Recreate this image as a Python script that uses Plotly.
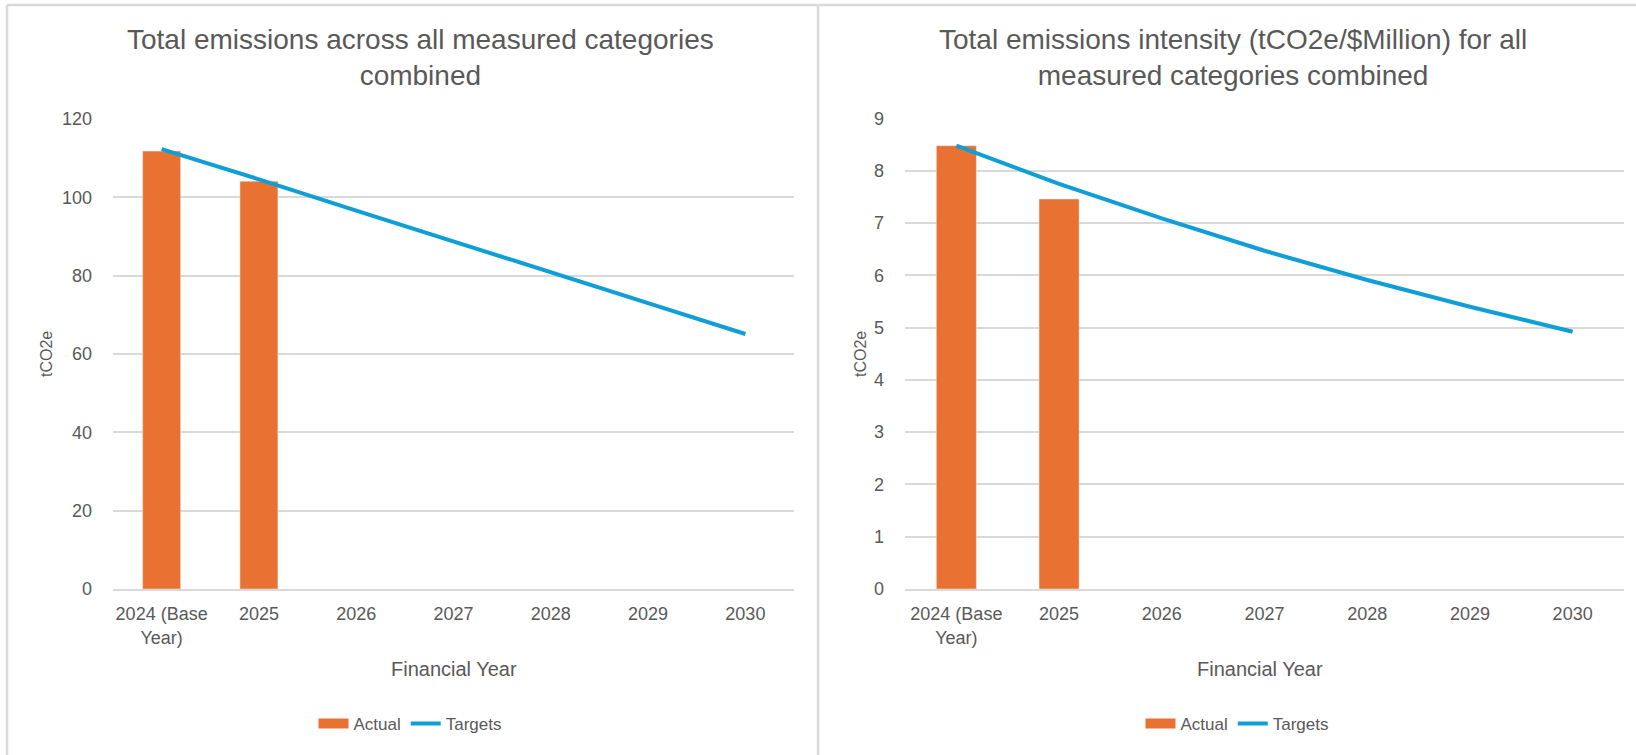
import plotly.graph_objects as go

# ---- data ----
years = ["2024 (Base<br>Year)", "2025", "2026", "2027", "2028", "2029", "2030"]
emissions_actual = [111.8, 104.1, None, None, None, None, None]
emissions_targets = [112.3, 104.6, 96.6, 88.8, 80.8, 73.0, 65.1]
intensity_actual = [8.48, 7.46, None, None, None, None, None]
intensity_targets = [8.48, 7.75, 7.09, 6.47, 5.91, 5.40, 4.92]

left_title = "Total emissions across all measured categories<br>combined"
right_title = "Total emissions intensity (tCO2e/$Million) for all<br>measured categories combined"

W, H = 1636, 755
ORANGE = "#E97132"
BLUE = "#0F9ED5"
GRID = "#D9D9D9"
TXT = "#595959"
FONT = "Liberation Sans, Arial, sans-serif"


def px(x):
    return x / W


def py(y):
    return 1 - y / H


fig = go.Figure()
# left chart
fig.add_trace(go.Bar(x=years, y=emissions_actual, name="Actual", marker_color=ORANGE,
                     width=0.39, xaxis="x", yaxis="y", showlegend=False))
fig.add_trace(go.Scatter(x=[None], y=[None], name="Actual", mode="lines",
                         line=dict(color=ORANGE, width=12), xaxis="x", yaxis="y", legend="legend"))
fig.add_trace(go.Scatter(x=years, y=emissions_targets, name="Targets", mode="lines",
                         line=dict(color=BLUE, width=4), xaxis="x", yaxis="y", legend="legend"))
# right chart
fig.add_trace(go.Bar(x=years, y=intensity_actual, name="Actual", marker_color=ORANGE,
                     width=0.39, xaxis="x2", yaxis="y2", showlegend=False))
fig.add_trace(go.Scatter(x=[None], y=[None], name="Actual", mode="lines",
                         line=dict(color=ORANGE, width=12), xaxis="x2", yaxis="y2", legend="legend2"))
fig.add_trace(go.Scatter(x=years, y=intensity_targets, name="Targets", mode="lines",
                         line=dict(color=BLUE, width=4), xaxis="x2", yaxis="y2", legend="legend2"))

xcommon = dict(type="category", showgrid=False, showline=True, linecolor=GRID, linewidth=1.5,
               tickfont=dict(family=FONT, size=18, color=TXT), ticks="", ticklabelstandoff=8,
               zeroline=False, fixedrange=True, automargin=False)
ycommon = dict(showgrid=True, gridcolor=GRID, gridwidth=1.5, showline=False, zeroline=False,
               tickfont=dict(family=FONT, size=18, color=TXT), ticks="", ticklabelstandoff=20,
               automargin=False)

fig.update_layout(
    width=W, height=H,
    margin=dict(l=0, r=0, t=0, b=0, autoexpand=False),
    paper_bgcolor="white", plot_bgcolor="white",
    font=dict(family=FONT, color=TXT),
    bargap=0.6,
    xaxis=dict(domain=[px(113), px(794)], anchor="y", **xcommon),
    yaxis=dict(domain=[py(589), py(119)], anchor="x", range=[0, 120], dtick=20, **ycommon),
    xaxis2=dict(domain=[px(905), px(1624)], anchor="y2", **xcommon),
    yaxis2=dict(domain=[py(589), py(118.5)], anchor="x2", range=[0, 9], dtick=1, **ycommon),
    legend=dict(orientation="h", x=px(410), xanchor="center", y=py(724), yanchor="middle",
                font=dict(family=FONT, size=17, color=TXT), bgcolor="rgba(0,0,0,0)"),
    legend2=dict(orientation="h", x=px(1237), xanchor="center", y=py(724), yanchor="middle",
                 font=dict(family=FONT, size=17, color=TXT), bgcolor="rgba(0,0,0,0)"),
)

ann = [
    dict(text=left_title, x=px(420), y=py(57), xref="paper", yref="paper", showarrow=False,
         xanchor="center", yanchor="middle", font=dict(family=FONT, size=28, color=TXT)),
    dict(text=right_title, x=px(1233), y=py(57), xref="paper", yref="paper", showarrow=False,
         xanchor="center", yanchor="middle", font=dict(family=FONT, size=28, color=TXT)),
    dict(text="tCO2e", x=px(46), y=py(354), xref="paper", yref="paper", showarrow=False,
         textangle=-90, xanchor="center", yanchor="middle", font=dict(family=FONT, size=16, color=TXT)),
    dict(text="tCO2e", x=px(860), y=py(354), xref="paper", yref="paper", showarrow=False,
         textangle=-90, xanchor="center", yanchor="middle", font=dict(family=FONT, size=16, color=TXT)),
    dict(text="Financial Year", x=px(454), y=py(669), xref="paper", yref="paper", showarrow=False,
         xanchor="center", yanchor="middle", font=dict(family=FONT, size=20, color=TXT)),
    dict(text="Financial Year", x=px(1260), y=py(669), xref="paper", yref="paper", showarrow=False,
         xanchor="center", yanchor="middle", font=dict(family=FONT, size=20, color=TXT)),
]
fig.update_layout(annotations=ann)

border = dict(color=GRID, width=2.5)
fig.update_layout(shapes=[
    dict(type="line", xref="paper", yref="paper", x0=px(7), x1=px(7), y0=0, y1=py(5), line=border),
    dict(type="line", xref="paper", yref="paper", x0=px(7), x1=1, y0=py(5), y1=py(5), line=border),
    dict(type="line", xref="paper", yref="paper", x0=px(818), x1=px(818), y0=0, y1=py(5), line=border),
])

fig.write_html(
    "out.html",
    config={"displayModeBar": False},
    post_script=(
        "document.documentElement.style.cssText='margin:0;padding:0;overflow:hidden;';"
        "document.body.style.cssText='margin:0;padding:0;overflow:hidden;';"
    ),
)
